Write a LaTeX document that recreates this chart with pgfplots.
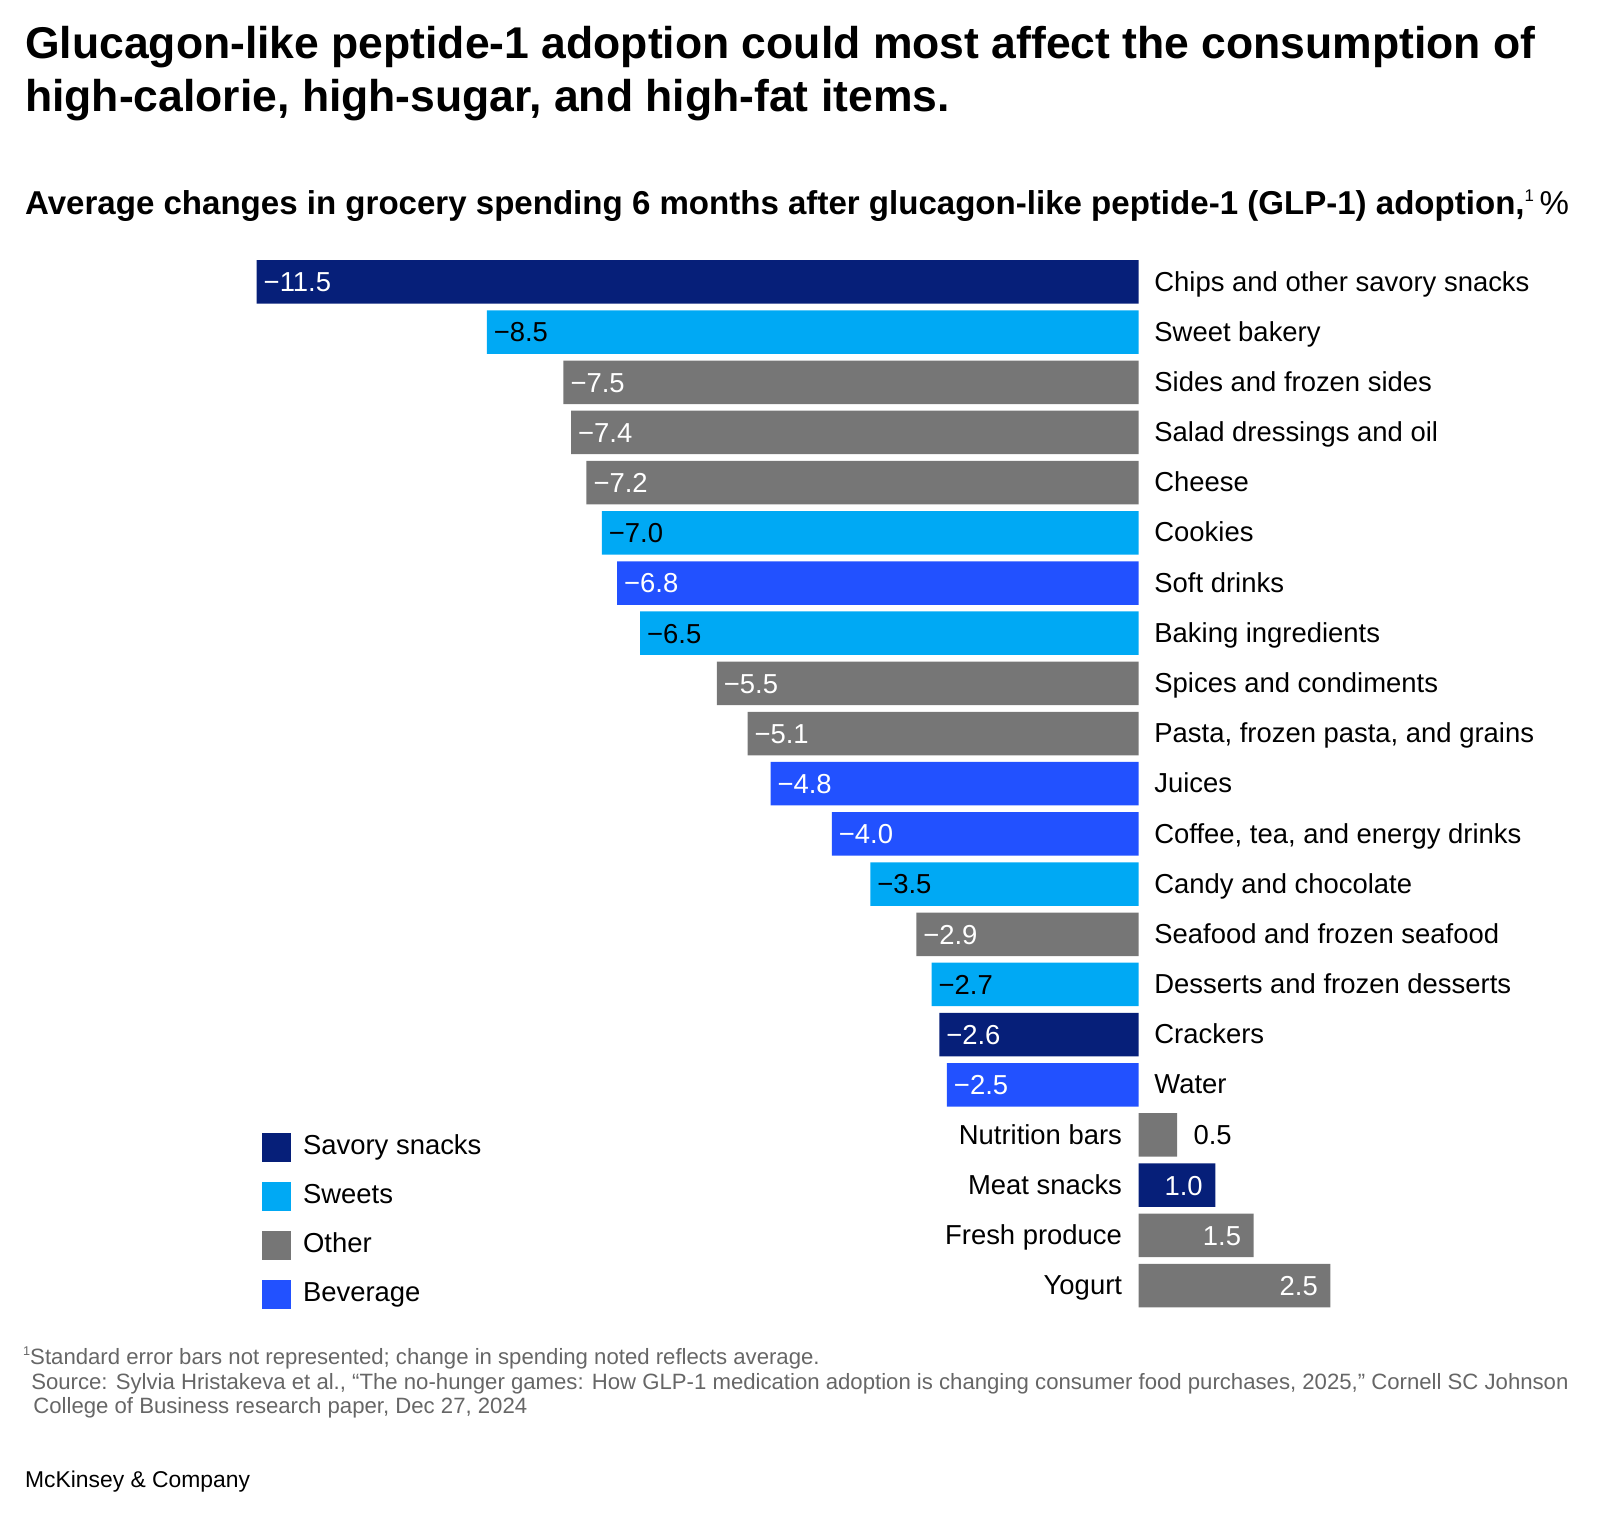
\documentclass[border=0pt]{standalone}
\usepackage{pgfplots}
\pgfplotsset{compat=1.18}
\usepackage{fontspec}
\setmainfont{Liberation Sans}

\definecolor{savory}{RGB}{6,31,121}
\definecolor{sweets}{RGB}{0,169,244}
\definecolor{other}{RGB}{118,118,118}
\definecolor{beverage}{RGB}{34,81,255}
\definecolor{notegray}{RGB}{102,102,102}

\newcommand{\lblfont}{\fontsize{7.8}{9.4}\selectfont}
\newcommand{\smallsup}[2]{\raisebox{#2}{\fontsize{#1}{#1}\selectfont 1}}

\pgfplotsset{
  mybar/.style={xbar, bar width=0.867, bar shift=0pt, draw=none, fill=#1},
  lbl/.style={draw=none, forget plot, nodes near coords, point meta=explicit symbolic,
    nodes near coords style={font=\lblfont, inner sep=0pt, #1}},
}

\begin{document}
\begin{tikzpicture}
\begin{axis}[
  at={(0,0)}, anchor=north west,
  width=16cm, height=15.15cm, scale only axis,
  hide axis, clip=false,
  xmin=-14.847, xmax=6.027,
  ymin=-5.618, ymax=24.591,
  y dir=reverse,
  legend style={at={(axis cs:-11.43,16.954)}, anchor=north west, draw=none, fill=none,
    inner sep=0pt, outer sep=0pt, row sep=0.2cm, column sep=0.12cm,
    font=\lblfont, nodes={inner sep=0pt}},
  legend cell align=left,
  legend image code/.code={\fill[#1] (0cm,-0.145cm) rectangle (0.29cm,0.145cm);},
]

% bars, one series per group
\addplot[mybar=savory] coordinates {(-11.5,0) (-2.6,15) (1.0,18)};
\addlegendentry{Savory snacks}
\addplot[mybar=sweets] coordinates {(-8.5,1) (-7.0,5) (-6.5,7) (-3.5,12) (-2.7,14)};
\addlegendentry{Sweets}
\addplot[mybar=other] coordinates {(-7.5,2) (-7.4,3) (-7.2,4) (-5.5,8) (-5.1,9) (-2.9,13) (0.5,17) (1.5,19) (2.5,20)};
\addlegendentry{Other}
\addplot[mybar=beverage] coordinates {(-6.8,6) (-4.8,10) (-4.0,11) (-2.5,16)};
\addlegendentry{Beverage}

% value labels
\addplot[lbl={anchor=base west, xshift=1.8pt, yshift=-2.8pt, text=white}] coordinates {
  (-11.5,0) [−11.5] (-7.5,2) [−7.5] (-7.4,3) [−7.4] (-7.2,4) [−7.2]
  (-6.8,6) [−6.8] (-5.5,8) [−5.5] (-5.1,9) [−5.1] (-4.8,10) [−4.8]
  (-4.0,11) [−4.0] (-2.9,13) [−2.9] (-2.6,15) [−2.6] (-2.5,16) [−2.5]};
\addplot[lbl={anchor=base west, xshift=1.8pt, yshift=-2.8pt, text=black}] coordinates {
  (-8.5,1) [−8.5] (-7.0,5) [−7.0] (-6.5,7) [−6.5] (-3.5,12) [−3.5] (-2.7,14) [−2.7]};
\addplot[lbl={anchor=base east, xshift=-3.4pt, yshift=-2.8pt, text=white}] coordinates {
  (1.0,18) [1.0] (1.5,19) [1.5] (2.5,20) [2.5]};
\addplot[lbl={anchor=base west, xshift=4.5pt, yshift=-2.8pt, text=black}] coordinates {
  (0.5,17) [0.5]};

% category names
\addplot[lbl={anchor=base west, xshift=4.27pt, yshift=-2.6pt, text=black}] coordinates {
  (0,0) [Chips and other savory snacks]
  (0,1) [Sweet bakery]
  (0,2) [Sides and frozen sides]
  (0,3) [Salad dressings and oil]
  (0,4) [Cheese]
  (0,5) [Cookies]
  (0,6) [Soft drinks]
  (0,7) [Baking ingredients]
  (0,8) [Spices and condiments]
  (0,9) [{Pasta, frozen pasta, and grains}]
  (0,10) [Juices]
  (0,11) [{Coffee, tea, and energy drinks}]
  (0,12) [Candy and chocolate]
  (0,13) [Seafood and frozen seafood]
  (0,14) [Desserts and frozen desserts]
  (0,15) [Crackers]
  (0,16) [Water]};
\addplot[lbl={anchor=base east, xshift=-4.55pt, yshift=-2.6pt, text=black}] coordinates {
  (0,17) [Nutrition bars]
  (0,18) [Meat snacks]
  (0,19) [Fresh produce]
  (0,20) [Yogurt]};
\end{axis}

\begin{scope}[x=0.01cm, y=-0.01cm]
  \path (0,0) rectangle (1600,1515);
  \node[anchor=base west, inner sep=0pt, font=\fontsize{12.65}{15}\selectfont\bfseries]
    at (24.5,58) {Glucagon-like peptide-1 adoption could most affect the consumption of};
  \node[anchor=base west, inner sep=0pt, font=\fontsize{12.65}{15}\selectfont\bfseries]
    at (24.5,111) {high-calorie, high-sugar, and high-fat items.};
  \node[anchor=base west, inner sep=0pt, font=\fontsize{9.4}{11}\selectfont]
    at (24.5,214) {\textbf{Average changes in grocery spending 6 months after glucagon-like peptide-1 (GLP-1) adoption,}\smallsup{4.8}{3.6pt}\,\%};
  \node[anchor=base west, inner sep=0pt, text=notegray, font=\fontsize{6.3}{7.5}\selectfont]
    at (22.5,1364) {\smallsup{3.6}{2.4pt}Standard error bars not represented; change in spending noted reflects average.};
  \node[anchor=base west, inner sep=0pt, text=notegray, font=\fontsize{6.3}{7.5}\selectfont]
    at (30.6,1389) {Source: Sylvia Hristakeva et al., “The no-hunger games: How GLP-1 medication adoption is changing consumer food purchases, 2025,” Cornell SC Johnson};
  \node[anchor=base west, inner sep=0pt, text=notegray, font=\fontsize{6.3}{7.5}\selectfont]
    at (32.7,1413) {College of Business research paper, Dec 27, 2024};
  \node[anchor=base west, inner sep=0pt, font=\fontsize{6.5}{7.5}\selectfont]
    at (24.5,1487) {McKinsey \& Company};
\end{scope}
\end{tikzpicture}
\end{document}
